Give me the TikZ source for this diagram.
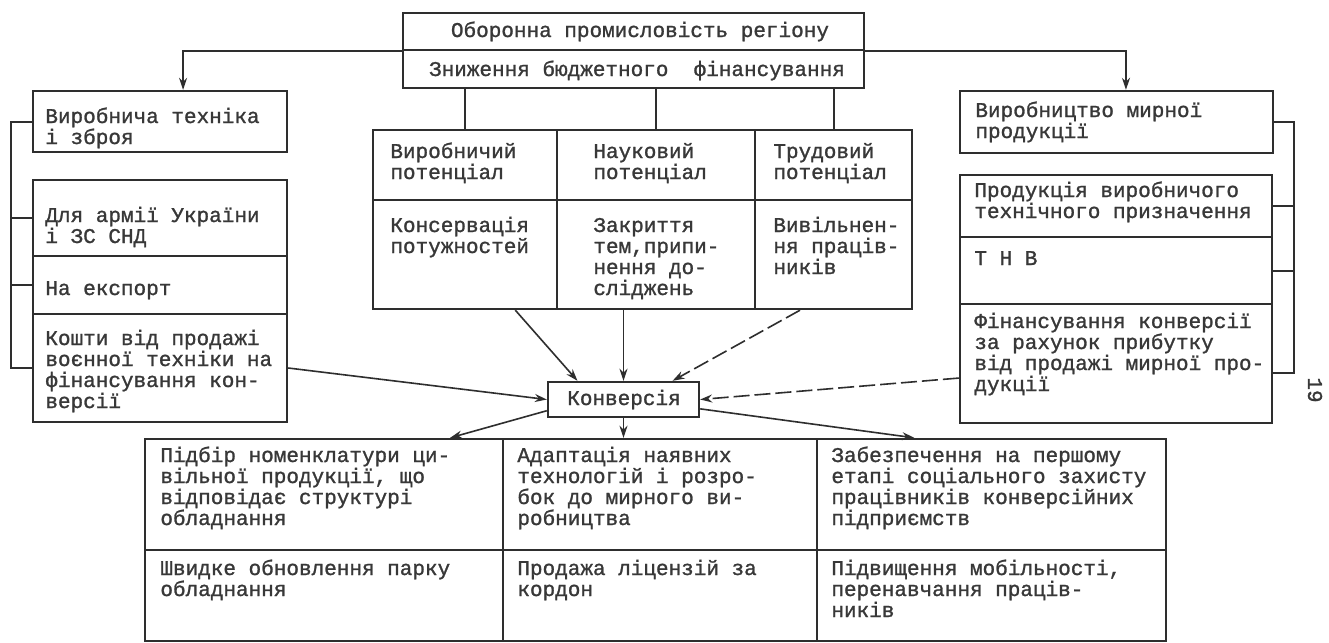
\documentclass[tikz,border=0pt]{standalone}
\usepackage{fontspec}
\newfontfamily\tw[FakeBold=1.2]{Liberation Mono}
\usetikzlibrary{fit,calc,arrows.meta}
\newcommand\ml[1]{\vtop{\baselineskip=10.5pt\lineskiplimit=-20pt\lineskip=0pt\halign{##\hfil\cr#1\crcr}}}
\definecolor{ink}{HTML}{2E2E2E}
\definecolor{txt}{HTML}{383838}
\begin{document}
\begin{tikzpicture}[x=0.5pt,y=-0.5pt,
  cell/.style={draw=ink,line width=1.2pt,inner sep=0pt},
  tx/.style={anchor=base west,inner sep=0pt,text=txt,font=\tw\fontsize{10.5}{10.5}\selectfont},
  tc/.style={tx,anchor=base},
  arr/.style={draw=ink,line width=0.8pt,-{Stealth[length=6pt,width=4pt]}},
  con/.style={draw=ink,line width=1pt},
  brk/.style={dash pattern=on 8pt off 2.5pt}]
\useasboundingbox[fill=white] (0,0) rectangle (1329,643);

% top boxes
\node[cell,fit={(403,13) (864,50)}] (top1) {};
\node[cell,fit={(403,50) (864,88)}] (top2) {};
\node[tc] (t-top1) at (640,37) {Оборонна промисловість регіону};
\node[tc] (t-top2) at (637,76) {Зниження бюджетного\ \ фінансування};

% left column
\node[cell,fit={(33,91) (287,152)}] (lb1) {};
\node[cell,fit={(33,180) (287,256)}] (lc1) {};
\node[cell,fit={(33,256) (287,314)}] (lc2) {};
\node[cell,fit={(33,314) (287,422)}] (lc3) {};
\node[tx] (t-lb1) at (45,123) {\ml{Виробнича техніка\cr і зброя}};
\node[tx] (t-lc1) at (45,222) {\ml{Для армії України\cr і ЗС СНД}};
\node[tx] (t-lc2) at (45,295) {На експорт};
\node[tx] (t-lc3) at (45,345) {\ml{Кошти від продажі\cr воєнної техніки на\cr фінансування кон-\cr версії}};

% middle table
\node[cell,fit={(373,130) (557,200)}] (m11) {};
\node[cell,fit={(557,130) (755,200)}] (m12) {};
\node[cell,fit={(755,130) (912,200)}] (m13) {};
\node[cell,fit={(373,200) (557,309)}] (m21) {};
\node[cell,fit={(557,200) (755,309)}] (m22) {};
\node[cell,fit={(755,200) (912,309)}] (m23) {};
\node[tx] (t-m11) at (390,158) {\ml{Виробничий\cr потенціал}};
\node[tx] (t-m12) at (593,158) {\ml{Науковий\cr потенціал}};
\node[tx] (t-m13) at (773,158) {\ml{Трудовий\cr потенціал}};
\node[tx] (t-m21) at (390,232) {\ml{Консервація\cr потужностей}};
\node[tx] (t-m22) at (593,232) {\ml{Закриття\cr тем,припи-\cr нення до-\cr сліджень}};
\node[tx] (t-m23) at (773,232) {\ml{Вивільнен-\cr ня праців-\cr ників}};

% right column
\node[cell,fit={(960,91) (1273,153)}] (rb1) {};
\node[cell,fit={(960,175) (1272,237)}] (rc1) {};
\node[cell,fit={(960,237) (1272,304)}] (rc2) {};
\node[cell,fit={(960,304) (1272,423)}] (rc3) {};
\node[tx] (t-rb1) at (975,117) {\ml{Виробництво мирної\cr продукції}};
\node[tx] (t-rc1) at (974,197) {\ml{Продукція виробничого\cr технічного призначення}};
\node[tx] (t-rc2) at (974,265) {Т Н В};
\node[tx] (t-rc3) at (974,328) {\ml{Фінансування конверсії\cr за рахунок прибутку\cr від продажі мирної про-\cr дукції}};

% conversion
\node[cell,fit={(548,382) (699,417)}] (konv) {};
\node[tc] (t-konv) at (624,405) {Конверсія};

% bottom table
\node[cell,fit={(145,439) (503,550)}] (b11) {};
\node[cell,fit={(503,439) (817,550)}] (b12) {};
\node[cell,fit={(817,439) (1166,550)}] (b13) {};
\node[cell,fit={(145,550) (503,641)}] (b21) {};
\node[cell,fit={(503,550) (817,641)}] (b22) {};
\node[cell,fit={(817,550) (1166,641)}] (b23) {};
\node[tx] (t-b11) at (160,462) {\ml{Підбір номенклатури ци-\cr вільної продукції, що\cr відповідає структурі\cr обладнання}};
\node[tx] (t-b12) at (517,462) {\ml{Адаптація наявних\cr технологій і розро-\cr бок до мирного ви-\cr робництва}};
\node[tx] (t-b13) at (831,462) {\ml{Забезпечення на першому\cr етапі соціального захисту\cr працівників конверсійних\cr підприємств}};
\node[tx] (t-b21) at (160,575) {\ml{Швидке обновлення парку\cr обладнання}};
\node[tx] (t-b22) at (517,575) {\ml{Продажа ліцензій за\cr кордон}};
\node[tx] (t-b23) at (831,575) {\ml{Підвищення мобільності,\cr перенавчання праців-\cr ників}};

% page number
\node[tx,anchor=center,rotate=-90] (pg) at (1315,390) {19};

% connectors from top
\draw[arr] (top1.south west) -| ($(lb1.north west)!0.59!(lb1.north east)$);
\draw[arr] (top1.south east) -| ($(rb1.north west)!0.53!(rb1.north east)$);
\foreach \c in {m11,m12,m13} \draw[con] (\c.north |- top2.south) -- (\c.north);

% brackets
\coordinate (lbx) at (11,0);
\coordinate (rbx) at (1294,0);
\draw[con] (lb1.west) -- (lb1.west -| lbx) |- (lc3.west);
\draw[con] (lc1.west) -- (lc1.west -| lbx);
\draw[con] (lc2.west) -- (lc2.west -| lbx);
\coordinate (rc3e) at ($(rc3.north east)!0.58!(rc3.south east)$);
\draw[con] (rb1.east) -- (rb1.east -| rbx) |- (rc3e);
\draw[con] (rc1.east) -- (rc1.east -| rbx);
\draw[con] (rc2.east) -- (rc2.east -| rbx);

% into conversion
\draw[arr] ($(m21.south west)!0.77!(m21.south east)$) -- ($(konv.north west)!0.2!(konv.north east)$);
\draw[arr] (m22.south -| konv.north) -- (konv.north);
\draw[arr,brk] ($(m23.south west)!0.29!(m23.south east)$) -- ($(konv.north west)!0.82!(konv.north east)$);
\draw[arr] (lc3.east) -- (konv.west);
\draw[arr,brk] ($(rc3.north west)!0.62!(rc3.south west)$) -- (konv.east);

% out of conversion
\draw[arr] ($(konv.north west)!0.8!(konv.south west)$) -- ($(b11.north west)!0.85!(b11.north east)$);
\draw[arr] (konv.south) -- (konv.south |- b12.north);
\draw[arr] ($(konv.north east)!0.75!(konv.south east)$) -- ($(b13.north west)!0.28!(b13.north east)$);
\end{tikzpicture}
\end{document}
